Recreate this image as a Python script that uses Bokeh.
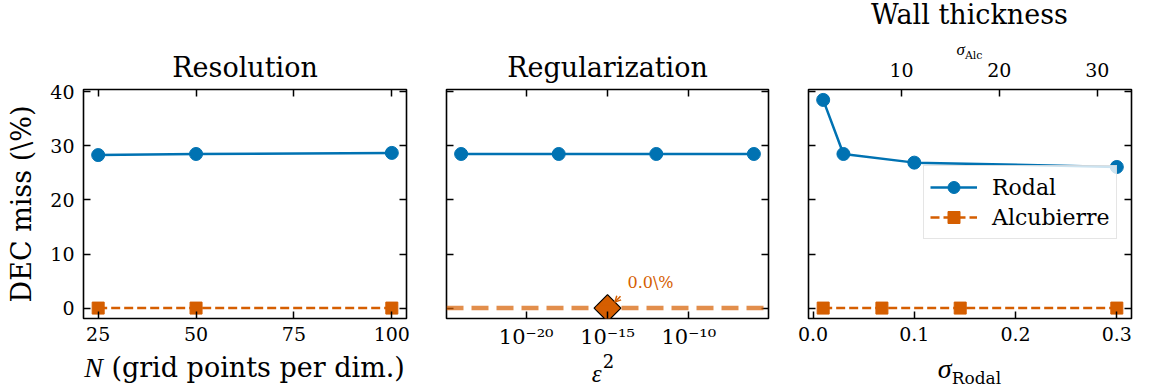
from bokeh.plotting import figure
from bokeh.layouts import row, column
from bokeh.models import (Range1d, LinearAxis, LogAxis, FixedTicker, Label, Span, Arrow,
                          OpenHead, Legend, LegendItem, PrintfTickFormatter,
                          CustomJSTickFormatter, Div)
from bokeh.embed import file_html
from bokeh.resources import INLINE

BLUE = "#0072B2"
ORANGE = "#D55E00"
SERIF = "DejaVu Serif"
MATH = "Liberation Serif"

# Resolution sweep
n_grid = [25, 50, 100]
res_rodal = [28.3, 28.5, 28.7]
res_alc = [0.0, 0.0, 0.0]

# Regularization sweep
eps2 = [1e-24, 1e-18, 1e-12, 1e-6]
reg_rodal = [28.5, 28.5, 28.5, 28.5]
reg_alc_eps2 = 1e-15
reg_alc = 0.0

# Wall-thickness sweep
sigma_rodal = [0.01, 0.03, 0.1, 0.3]
wall_rodal = [38.5, 28.5, 26.9, 26.1]
sigma_alc = [2, 8, 16, 32]
wall_alc = [0.0, 0.0, 0.0, 0.0]

y_ticks = [0, 10, 20, 30, 40]
n_ticks = [25, 50, 75, 100]
eps_ticks = [1e-20, 1e-15, 1e-10]
sr_ticks = [0.0, 0.1, 0.2, 0.3]
sa_ticks = [10, 20, 30]

FRAME_H = 229
TICK_FONT = "19px"


def padded(lo, hi, frac=0.05):
    span = hi - lo
    return lo - frac * span, hi + frac * span


all_y = res_rodal + res_alc + reg_rodal + [reg_alc] + wall_rodal + wall_alc
Y_LO, Y_HI = padded(min(all_y), max(all_y))


def style_axis(ax, show_labels=True):
    ax.axis_line_color = None
    ax.major_tick_in = 7
    ax.major_tick_out = 0
    ax.minor_tick_in = 0
    ax.minor_tick_out = 0
    ax.major_tick_line_color = "black"
    ax.major_tick_line_width = 1.5
    ax.major_label_text_font = SERIF
    if show_labels:
        ax.major_label_text_font_size = TICK_FONT
        ax.major_label_text_color = "black"
    else:
        ax.major_label_text_font_size = "1px"
        ax.major_label_text_color = None
        ax.major_label_standoff = 0


def make_fig(x_range, frame_w, left, right, top, bottom, title=None, x_axis_type="linear"):
    p = figure(frame_width=frame_w, frame_height=FRAME_H, x_range=x_range,
               y_range=Range1d(Y_LO, Y_HI), x_axis_type=x_axis_type, title=title,
               output_backend="svg", toolbar_location=None,
               min_border_left=left, min_border_right=right,
               min_border_top=top, min_border_bottom=bottom,
               background_fill_color="white", border_fill_color="white")
    p.xgrid.visible = False
    p.ygrid.visible = False
    p.outline_line_color = "black"
    p.outline_line_width = 1.6
    if title is not None:
        p.title.align = "center"
        p.title.text_font = SERIF
        p.title.text_font_size = "27px"
        p.title.text_font_style = "normal"
        p.title.text_color = "black"
        p.title.standoff = 14
    return p


def text_div(html, width, height, left, inner_w, size, pad_top):
    body = (f'<div style="margin-left:{left}px;width:{inner_w}px;text-align:center;'
            f'font-family:\'{SERIF}\';font-size:{size}px;line-height:1;color:black;'
            f'padding-top:{pad_top}px;white-space:nowrap;overflow:visible;">{html}</div>')
    return Div(text=body, width=width, height=height, margin=0,
               styles={"overflow": "visible"})


def math_sym(ch, size):
    return (f'<span style="font-family:\'{MATH}\';font-style:italic;'
            f'font-size:{size}px;">{ch}</span>')


def rodal_series(p, xs, ys, **kw):
    ln = p.line(xs, ys, line_color=BLUE, line_width=2.5, **kw)
    sc = p.scatter(xs, ys, marker="circle", size=13, fill_color=BLUE, line_color=BLUE, **kw)
    return ln, sc


def alc_series(p, xs, ys, **kw):
    ln = p.line(xs, ys, line_color=ORANGE, line_width=2.5, line_dash="9 4", **kw)
    sc = p.scatter(xs, ys, marker="square", size=12, fill_color=ORANGE, line_color=ORANGE, **kw)
    return ln, sc


# ---- Resolution ----
p1 = make_fig(Range1d(*padded(min(n_grid), max(n_grid))), 323, 83, 20, 89, 34, "Resolution")
rodal_series(p1, n_grid, res_rodal)
alc_series(p1, n_grid, res_alc)
p1.xaxis.ticker = FixedTicker(ticks=n_ticks)
p1.yaxis.ticker = FixedTicker(ticks=y_ticks)
style_axis(p1.xaxis[0])
style_axis(p1.yaxis[0])
p1.xaxis.major_label_standoff = 8
p1.yaxis.major_label_standoff = 9
p1.yaxis.axis_label = "DEC miss (\\%)"
p1.yaxis.axis_label_text_font = SERIF
p1.yaxis.axis_label_text_font_size = "27px"
p1.yaxis.axis_label_text_font_style = "normal"
p1.yaxis.axis_label_text_color = "black"
p1.yaxis.axis_label_standoff = 10
for side, ax in (("right", LinearAxis(ticker=FixedTicker(ticks=y_ticks))),
                 ("above", LinearAxis(ticker=FixedTicker(ticks=n_ticks)))):
    style_axis(ax, show_labels=False)
    p1.add_layout(ax, side)
x1_label = text_div(math_sym("N", 28) + ' (grid points per dim.)', 426, 38, 83, 323, 27, 2)

# ---- Regularization ----
lo, hi = padded(-24, -6)
p2 = make_fig(Range1d(10 ** lo, 10 ** hi), 322, 20, 20, 89, 34, "Regularization",
              x_axis_type="log")
rodal_series(p2, eps2, reg_rodal)
p2.add_layout(Span(location=reg_alc, dimension="width", line_color=ORANGE, line_alpha=0.7,
                   line_width=4.5, line_dash="17 8"))
p2.scatter([reg_alc_eps2], [reg_alc], marker="square", angle=0.785398, size=19,
           fill_color=ORANGE, line_color="black", line_width=1.2)
p2.add_layout(Arrow(end=OpenHead(size=6, line_color=ORANGE, line_width=1.5),
                    x_start=reg_alc_eps2 * 10 ** 0.8, y_start=reg_alc + 2.2,
                    x_end=reg_alc_eps2 * 10 ** 0.45, y_end=reg_alc + 1.1,
                    line_color=ORANGE, line_width=1.5))
p2.add_layout(Label(x=reg_alc_eps2, y=reg_alc, x_offset=20, y_offset=26,
                    text=f"{reg_alc:.1f}\\%", text_font=SERIF, text_font_size="16px",
                    text_color=ORANGE, text_baseline="alphabetic"))
p2.xaxis.ticker = FixedTicker(ticks=eps_ticks)
p2.xaxis.formatter = CustomJSTickFormatter(code="""
    const sup = {"-": "\u207b", "0": "\u2070", "1": "\u00b9", "2": "\u00b2", "3": "\u00b3",
                 "4": "\u2074", "5": "\u2075", "6": "\u2076", "7": "\u2077", "8": "\u2078",
                 "9": "\u2079"};
    const e = Math.round(Math.log10(tick));
    return "10" + String(e).split("").map(c => sup[c]).join("");
""")
p2.yaxis.ticker = FixedTicker(ticks=y_ticks)
style_axis(p2.xaxis[0])
style_axis(p2.yaxis[0], show_labels=False)
p2.xaxis.major_label_text_font_size = "21px"
p2.xaxis.major_label_standoff = 6
for side, ax in (("right", LinearAxis(ticker=FixedTicker(ticks=y_ticks))),
                 ("above", LogAxis(ticker=FixedTicker(ticks=eps_ticks)))):
    style_axis(ax, show_labels=False)
    p2.add_layout(ax, side)
x2_label = text_div(math_sym("\u03b5", 25) +
                    '<span style="font-size:18px;position:relative;top:-14px;'
                    'margin-left:1px;margin-right:8px;">2</span>', 362, 38, 20, 322, 22, 9)

# ---- Wall thickness ----
p3 = make_fig(Range1d(*padded(min(sigma_rodal), max(sigma_rodal))), 323, 20, 31, 35, 34)
p3.border_fill_color = None
p3.extra_x_ranges = {"alc": Range1d(*padded(min(sigma_alc), max(sigma_alc)))}
r_ln, r_sc = rodal_series(p3, sigma_rodal, wall_rodal)
a_ln, a_sc = alc_series(p3, sigma_alc, wall_alc, x_range_name="alc")
p3.xaxis.ticker = FixedTicker(ticks=sr_ticks)
p3.xaxis.formatter = PrintfTickFormatter(format="%.1f")
p3.yaxis.ticker = FixedTicker(ticks=y_ticks)
style_axis(p3.xaxis[0])
style_axis(p3.yaxis[0], show_labels=False)
p3.xaxis.major_label_standoff = 8
top = LinearAxis(x_range_name="alc", ticker=FixedTicker(ticks=sa_ticks))
style_axis(top)
top.major_label_standoff = 13
p3.add_layout(top, "above")
right = LinearAxis(ticker=FixedTicker(ticks=y_ticks))
style_axis(right, show_labels=False)
p3.add_layout(right, "right")

legend = Legend(items=[LegendItem(label="Rodal", renderers=[r_ln, r_sc]),
                       LegendItem(label="Alcubierre", renderers=[a_ln, a_sc])],
                location=(115, 79), label_text_font=SERIF, label_text_font_size="22px",
                label_text_color="black",
                glyph_width=47, glyph_height=30, label_height=30, spacing=0, padding=6,
                margin=0, label_standoff=15, border_line_color="#cccccc",
                border_line_width=1.5, background_fill_alpha=0.8)
p3.add_layout(legend)

title3 = text_div("Wall thickness", 374, 25, 20, 323, 27, 1)
top3_label = text_div(math_sym("\u03c3", 17) +
                      '<span style="font-size:11px;position:relative;top:4px;">Alc</span>',
                      374, 29, 20, 323, 15, 16)
x3_label = text_div(math_sym("\u03c3", 28) +
                    '<span style="font-size:17px;position:relative;top:6px;">Rodal</span>',
                    374, 38, 20, 323, 26, 3)

layout = row(column(p1, x1_label), column(p2, x2_label),
             column(title3, top3_label, p3, x3_label))
with open("out.html", "w") as f:
    f.write(file_html(layout, INLINE))
